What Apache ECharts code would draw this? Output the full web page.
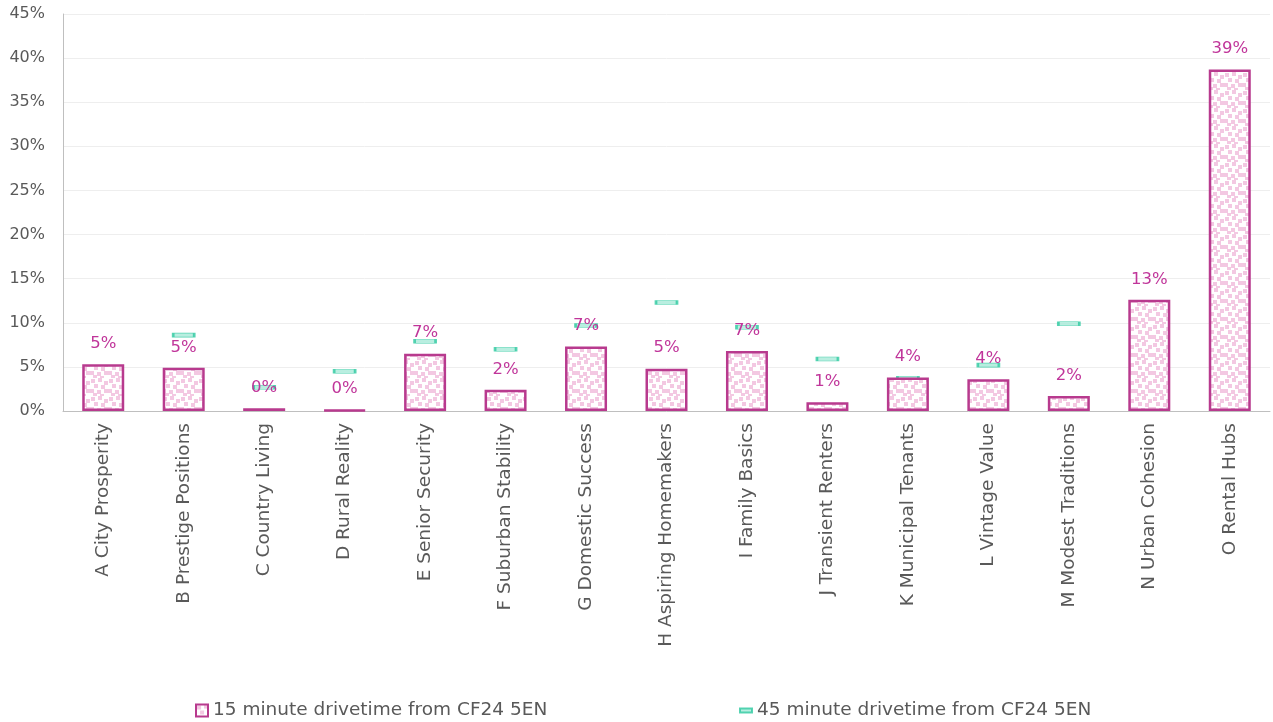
<!DOCTYPE html>
<html>
<head>
<meta charset="utf-8">
<script src="https://cdn.jsdelivr.net/npm/echarts@6/dist/echarts.min.js"></script>
<style>html,body{margin:0;padding:0;background:#fff;}#chart{width:1273px;height:722px;}</style>
</head>
<body>
<div id="chart"></div>
<script>
const categories = ["A City Prosperity","B Prestige Positions","C Country Living","D Rural Reality","E Senior Security","F Suburban Stability","G Domestic Success","H Aspiring Homemakers","I Family Basics","J Transient Renters","K Municipal Tenants","L Vintage Value","M Modest Traditions","N Urban Cohesion","O Rental Hubs"];
const drive15 = [5.3, 4.9, 0.3, 0.1, 6.5, 2.4, 7.3, 4.8, 6.8, 1.0, 3.8, 3.6, 1.7, 12.6, 38.7];
const drive45 = [1.0, 8.6, 2.7, 4.5, 7.9, 7.0, 9.7, 12.3, 9.5, 5.9, 3.7, 5.2, 9.9, 2.9, 9.0];
const yTicks = [0,5,10,15,20,25,30,35,40,45];
const seriesNames = ["15 minute drivetime from CF24 5EN","45 minute drivetime from CF24 5EN"];

function makePattern(){
  const c = document.createElement('canvas');
  c.width = 18; c.height = 18;
  const g = c.getContext('2d');
  g.fillStyle = '#ffffff'; g.fillRect(0,0,18,18);
  g.fillStyle = '#F3C8E2';
  const pts = [[1,1],[8,0],[14,3],[4,6],[11,7],[0,11],[7,12],[14,11],[3,15],[10,16]];
  pts.forEach(p=>g.fillRect(p[0],p[1],4,4));
  return c;
}
const pattern = makePattern();
const font = 'DejaVu Sans';
const chart = echarts.init(document.getElementById('chart'));
chart.setOption({
  animation:false,
  textStyle:{fontFamily:font},
  grid:{left:63,right:3,top:14,bottom:311,containLabel:false},
  legend:[{
    data:[{name:seriesNames[0],icon:'rect'}],
    left:190, top:696, itemWidth:12, itemHeight:12, itemGap:10,
    textStyle:{fontFamily:font,fontSize:18.5,color:'#595959'}
  },{
    data:[{name:seriesNames[1],icon:'rect'}],
    left:734, top:696, itemWidth:12, itemHeight:4, itemGap:4,
    textStyle:{fontFamily:font,fontSize:18.5,color:'#595959'}
  }],
  xAxis:{
    type:'category', data:categories,
    axisLine:{lineStyle:{color:'#BFBFBF',width:1}},
    axisTick:{show:false},
    axisLabel:{rotate:90,interval:0,fontFamily:font,fontSize:18.5,color:'#595959',margin:12}
  },
  yAxis:{
    type:'value', min:0, max:45, interval:5,
    axisLine:{show:true,lineStyle:{color:'#BFBFBF'}},
    axisTick:{show:false},
    splitLine:{lineStyle:{color:'#EEEEEE'}},
    axisLabel:{formatter:v=>v+'%',fontFamily:font,fontSize:16,color:'#595959',margin:18}
  },
  series:[{
    name:seriesNames[0], type:'bar', data:drive15, barWidth:42,
    itemStyle:{color:{image:pattern,repeat:'repeat'},borderColor:'#B83A8E',borderWidth:2.5},
    label:{show:true,position:'top',distance:12,formatter:p=>Math.round(p.value)+'%',fontFamily:font,fontSize:16.5,color:'#C0359A'},
    z:2
  },{
    name:seriesNames[1], type:'scatter', data:drive45,
    symbol:'rect', symbolSize:[21,4],
    itemStyle:{color:'#A8EAD8',borderColor:'#2EC9A0',borderWidth:1.2},
    z:1
  }]
});
</script>
</body>
</html>
